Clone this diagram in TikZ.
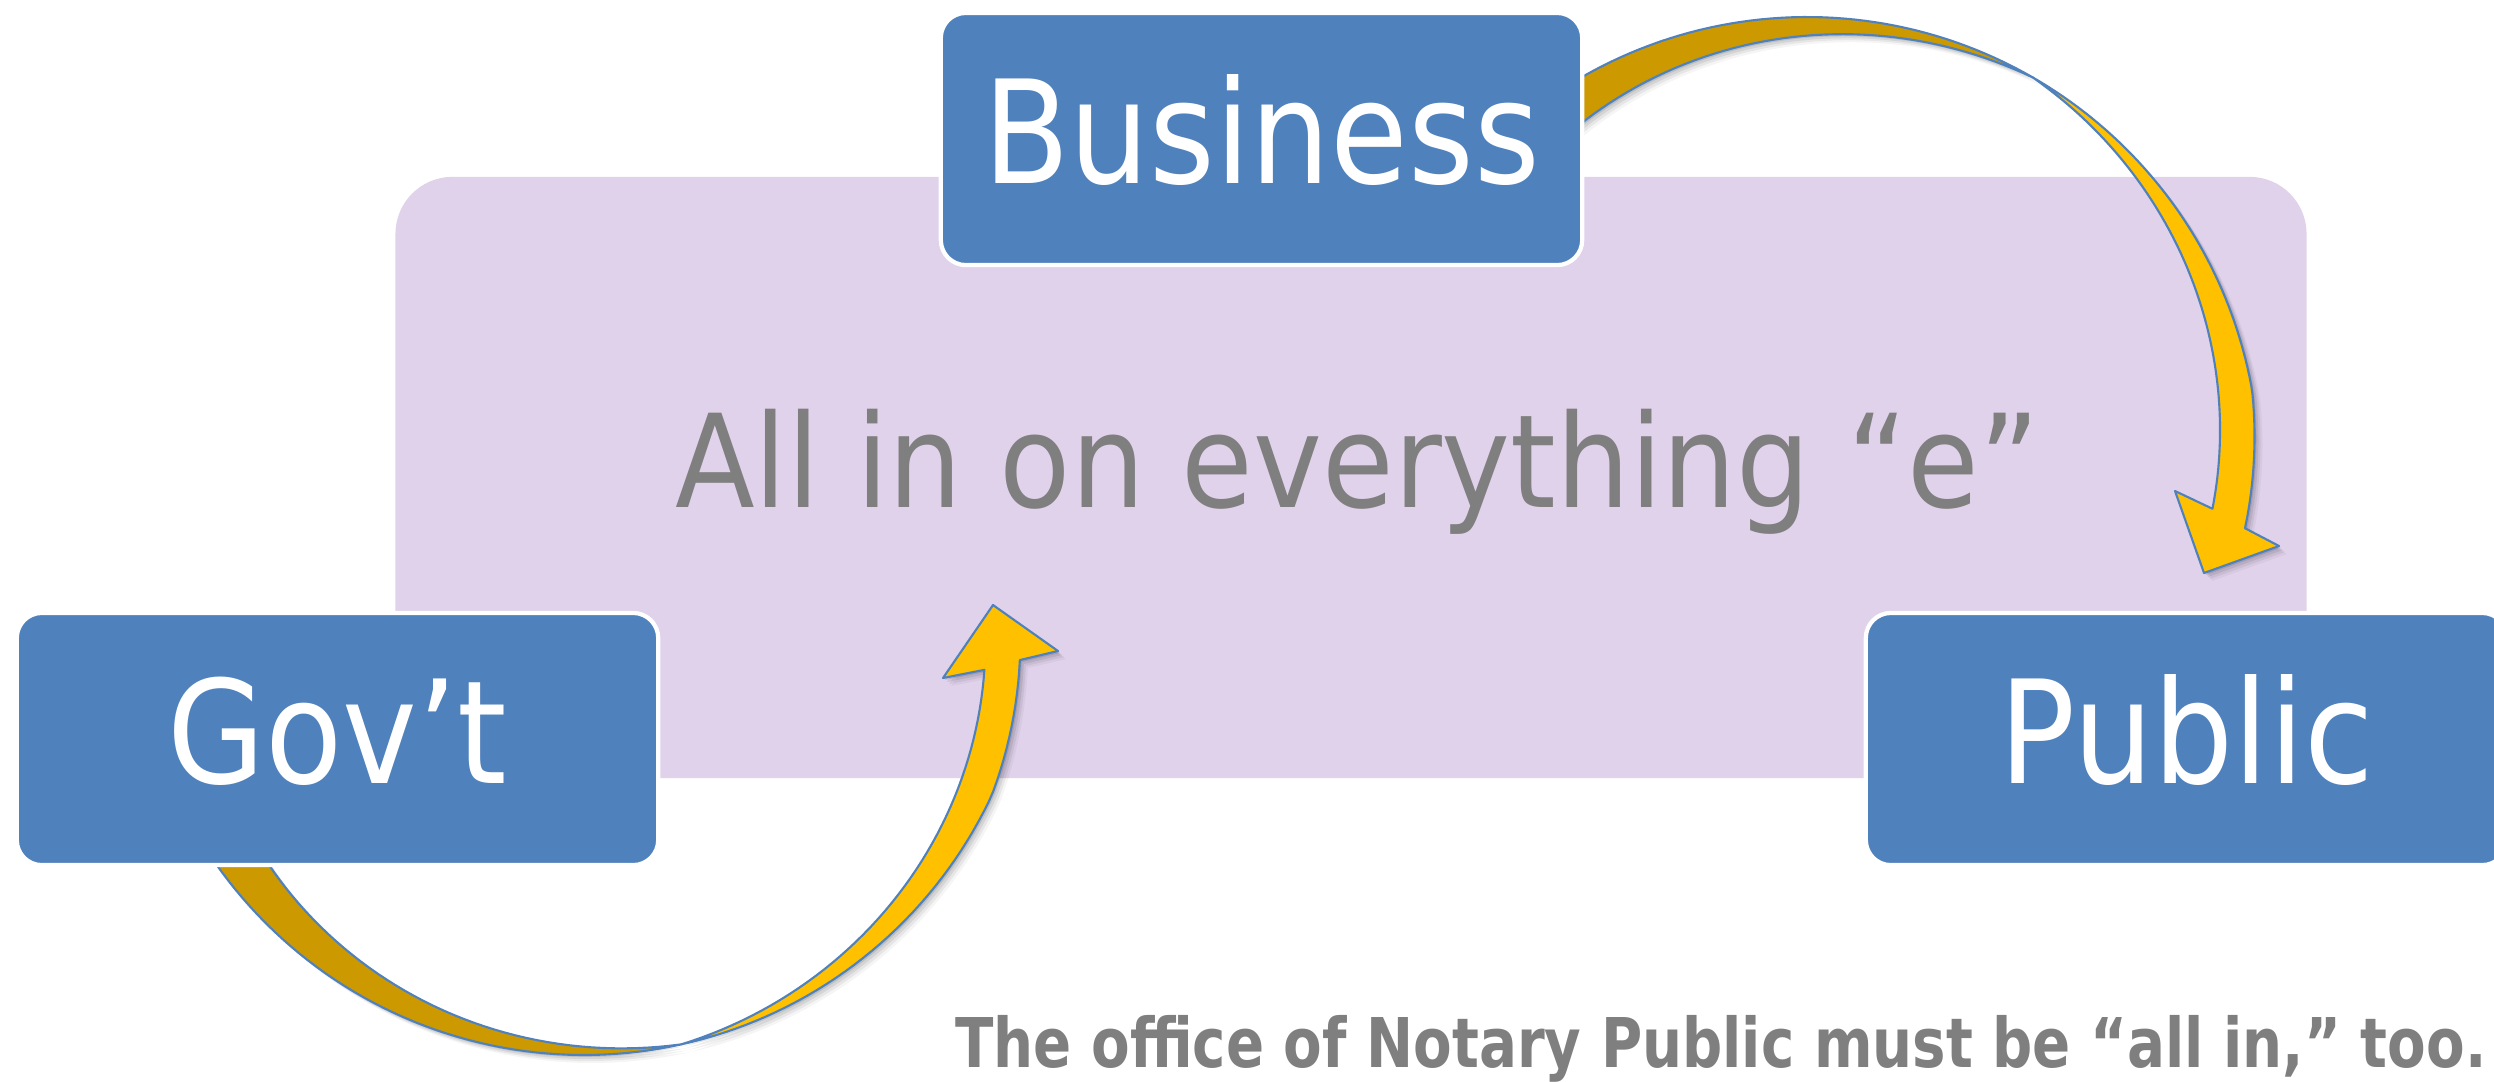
\documentclass[tikz,border=0pt]{standalone}
\usepackage{fontspec}
\setmainfont{DejaVu Sans}[FakeStretch=0.88]
\newfontfamily\centerfont{DejaVu Sans}[FakeStretch=0.90]
\newfontfamily\footfont{DejaVu Sans}[FakeStretch=0.82]
\definecolor{boxblue}{HTML}{4F81BD}
\definecolor{lav}{HTML}{E0D2EB}
\definecolor{gold}{HTML}{FFC000}
\definecolor{darkgold}{HTML}{CC9900}
\definecolor{txtgray}{HTML}{7F7F7F}
\tikzset{
  boxnode/.style={rounded corners=0.25cm, fill=boxblue, draw=white, line width=1.2pt,
    minimum width=6.41cm, minimum height=2.52cm, text=white, inner sep=0pt,
    font=\fontsize{40.8}{46}\selectfont, text height=1.1cm, text depth=0.22cm},
  bandedge/.style={draw=boxblue, line width=0.6pt, line join=round},
  shadowfill/.style={fill=black, opacity=#1},
}
% top arrow (Business -> Public), circle centre (1807,469)
\def\topdarkpath{plot[domain=125:60, samples=50] ({1807+452*cos(\x)}, {469-452*sin(\x)}) -- plot[domain=60:125, samples=50] ({1807+(452-0.62*((\x)-60))*cos(\x)}, {469-(452-0.62*((\x)-60))*sin(\x)}) -- cycle}
\def\topgoldpath{plot[domain=60:-5.6, samples=60] ({1807+(452-0.68*(60-(\x)))*cos(\x)}, {469-(452-0.68*(60-(\x)))*sin(\x)}) -- (2175,491) -- (2204,573) -- (2279,546) -- plot[domain=-7.7:60, samples=60] ({1807+(452-0.565*max(0,10-(\x)))*cos(\x)}, {469-(452-0.565*max(0,10-(\x)))*sin(\x)}) -- cycle}
% bottom arrow (Gov't -> centre), circle centre (584,605)
\def\botdarkpath{plot[domain=-148:-77.5, samples=50] ({584+450*cos(\x)}, {605-450*sin(\x)}) -- plot[domain=-77.5:-148, samples=50] ({584+(450-0.66*(-77.5-(\x)))*cos(\x)}, {605-(450-0.66*(-77.5-(\x)))*sin(\x)}) -- cycle}
\def\botgoldpath{plot[domain=-77.5:-9.2, samples=50] ({584+(450-0.65*((\x)+77.5))*cos(\x)}, {605-(450-0.65*((\x)+77.5))*sin(\x)}) -- (943,678) -- (993,605) -- (1058,651) -- plot[domain=-7.2:-77.5, samples=50] ({584+(450-0.6*max(0,(\x)+25))*cos(\x)}, {605-(450-0.6*max(0,(\x)+25))*sin(\x)}) -- cycle}
\begin{document}
\begin{tikzpicture}[x=0.01cm, y=-0.01cm]
  \useasboundingbox (0,0) rectangle (2494,1081);
  \clip (0,0) rectangle (2494,1081);
  \fill[white] (0,0) rectangle (2494,1081);
  % background panel
  \node[fill=lav, rounded corners=0.57cm, minimum width=19.10cm, minimum height=6.01cm, inner sep=0pt] (bg) at (1351,477.5) {};
  % soft shadows of the arrows
  \foreach \o/\op in {2/0.10,4/0.08,6/0.06,8/0.04} {
    \fill[shadowfill=\op, shift={(\o,\o)}] \topdarkpath;
    \fill[shadowfill=\op, shift={(\o,\o)}] \topgoldpath;
    \fill[shadowfill=\op, shift={(\o,\o)}] \botdarkpath;
    \fill[shadowfill=\op, shift={(\o,\o)}] \botgoldpath;
  }
  % arrows
  \filldraw[bandedge, fill=darkgold] \topdarkpath;
  \filldraw[bandedge, fill=gold] \topgoldpath;
  \filldraw[bandedge, fill=darkgold] \botdarkpath;
  \filldraw[bandedge, fill=gold] \botgoldpath;
  % boxes
  \node[boxnode] (business) at (1261.5,139) {Business};
  \node[boxnode] (govt) at (337.5,739) {Gov’t};
  \node[boxnode] (public) at (2186.5,739) {Public};
  % texts
  \node[anchor=base, inner sep=0pt, text=txtgray, font=\centerfont\fontsize{36.8}{44}\selectfont] (maintext) at (1357.5,507.7) {All in on everything “e”};
  \node[anchor=base east, inner sep=0pt, text=txtgray, font=\footfont\fontsize{19.5}{24}\selectfont\bfseries] (footer) at (2487,1067) {The office of Notary Public must be “all in,” too.};
\end{tikzpicture}
\end{document}
